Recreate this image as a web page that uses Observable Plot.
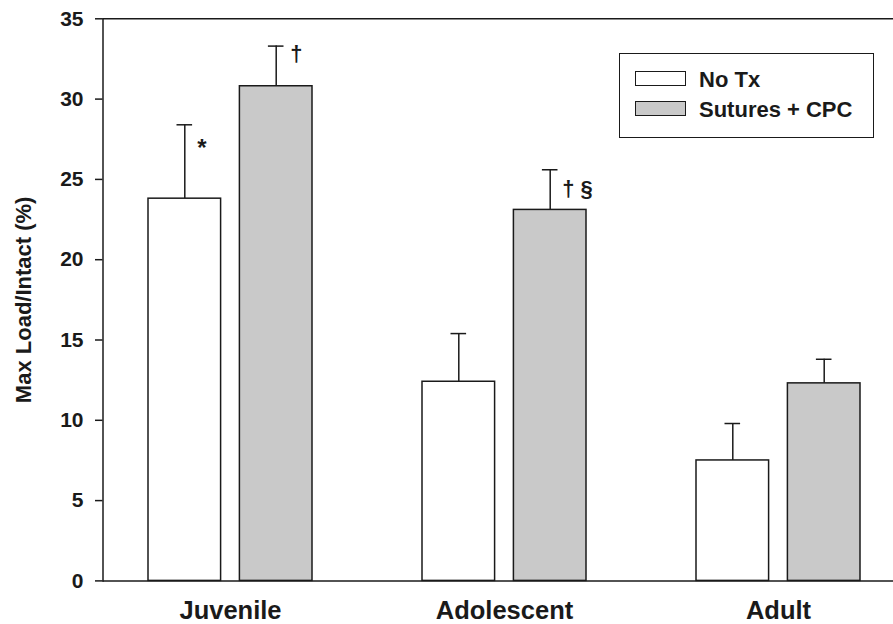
<!DOCTYPE html>
<html><head><meta charset="utf-8">
<script src="https://cdn.jsdelivr.net/npm/d3@7"></script>
<script src="https://cdn.jsdelivr.net/npm/@observablehq/plot@0.6"></script>
<style>
body{margin:0;background:#fff;font-family:"Liberation Sans",Arial,sans-serif;}
#wrap{position:relative;width:893px;height:624px;overflow:hidden;}
.legend{position:absolute;left:619px;top:53px;width:255px;height:85px;border:1.5px solid #1a1a1a;background:#fff;box-sizing:border-box;}
.sw{position:absolute;left:15px;width:51px;height:15px;border:1.5px solid #1a1a1a;box-sizing:border-box;}
.lt{position:absolute;left:79px;font-size:22px;font-weight:bold;line-height:22px;color:#1a1a1a;white-space:nowrap;}
</style></head>
<body><div id="wrap"></div>
<script>
const groups = ["Juvenile", "Adolescent", "Adult"];
const series = ["No Tx", "Sutures + CPC"];
const noTx = [23.8, 12.4, 7.5];
const noTxErr = [4.6, 3.0, 2.3];
const sutures = [30.8, 23.1, 12.3];
const suturesErr = [2.5, 2.5, 1.5];
const noTxNotes = ["*", "", ""];
const suturesNotes = ["†", "† §", ""];
const yTicks = [0, 5, 10, 15, 20, 25, 30, 35];
const yLabel = "Max Load/Intact (%)";
const seriesFill = ["#ffffff", "#c9c9c9"];

const A = groups.map((g, i) => ({group: g, value: noTx[i], hi: noTx[i] + noTxErr[i], note: noTxNotes[i]}));
const B = groups.map((g, i) => ({group: g, value: sutures[i], hi: sutures[i] + suturesErr[i], note: suturesNotes[i]}));

const ink = "#1a1a1a";
const off = 45.7;
const inset = 91.4;
const capInset = 74.2;

const chart = Plot.plot({
  width: 893, height: 624,
  marginLeft: 102.5, marginRight: 0, marginTop: 18.3, marginBottom: 43.6,
  style: {fontFamily: '"Liberation Sans", Arial, sans-serif', background: "white", color: ink},
  x: {domain: groups, range: [102.5, 906], paddingInner: 0.4, paddingOuter: 0.166, axis: null},
  y: {domain: [0, 35], axis: null},
  marks: [
    Plot.axisY({ticks: yTicks, tickSize: 7.5, tickPadding: 12, fontSize: 21, fontWeight: "bold", strokeWidth: 1.5, label: null}),
    Plot.axisX({tickSize: 0, tickPadding: 19.5, fontSize: 25.5, fontWeight: "bold", label: null}),
    Plot.text([yLabel], {frameAnchor: "left", textAnchor: "middle", rotate: -90, dx: -79.5, fontSize: 22, fontWeight: "bold"}),
    Plot.ruleX(A, {x: "group", y1: "value", y2: "hi", dx: -off, stroke: ink, strokeWidth: 1.5}),
    Plot.ruleX(B, {x: "group", y1: "value", y2: "hi", dx: off, stroke: ink, strokeWidth: 1.5}),
    Plot.tickY(A, {x: "group", y: "hi", dx: -off, insetLeft: capInset, insetRight: capInset, stroke: ink, strokeWidth: 1.5}),
    Plot.tickY(B, {x: "group", y: "hi", dx: off, insetLeft: capInset, insetRight: capInset, stroke: ink, strokeWidth: 1.5}),
    Plot.barY(A, {x: "group", y: "value", fill: seriesFill[0], stroke: ink, strokeWidth: 1.5, insetRight: inset}),
    Plot.barY(B, {x: "group", y: "value", fill: seriesFill[1], stroke: ink, strokeWidth: 1.5, insetLeft: inset}),
    Plot.text(A.filter(d => d.note === "*"), {x: "group", y: "hi", text: "note", textAnchor: "start", dx: -off + 12.5, dy: 24, fontSize: 24, fontWeight: "bold"}),
    Plot.text(B.filter(d => d.note === "†"), {x: "group", y: "hi", text: "note", textAnchor: "start", dx: off + 14, dy: 8, fontSize: 22, fontWeight: "bold"}),
    Plot.text(B.filter(d => d.note === "† §"), {x: "group", y: "hi", text: "note", textAnchor: "start", dx: off + 12, dy: 19, fontSize: 22, fontWeight: "bold"}),
    Plot.frame({anchor: "left", stroke: ink, strokeWidth: 1.5}),
    Plot.ruleY([0, 35], {stroke: ink, strokeWidth: 1.5})
  ]
});

const wrap = document.getElementById("wrap");
wrap.appendChild(chart);

const legend = document.createElement("div");
legend.className = "legend";
const swTops = [17, 47];
const txtTops = [15, 45];
series.forEach((s, i) => {
  const sw = document.createElement("div");
  sw.className = "sw";
  sw.style.top = swTops[i] + "px";
  sw.style.background = seriesFill[i];
  legend.appendChild(sw);
  const t = document.createElement("div");
  t.className = "lt";
  t.style.top = txtTops[i] + "px";
  t.textContent = s;
  legend.appendChild(t);
});
wrap.appendChild(legend);
</script>
</body></html>
